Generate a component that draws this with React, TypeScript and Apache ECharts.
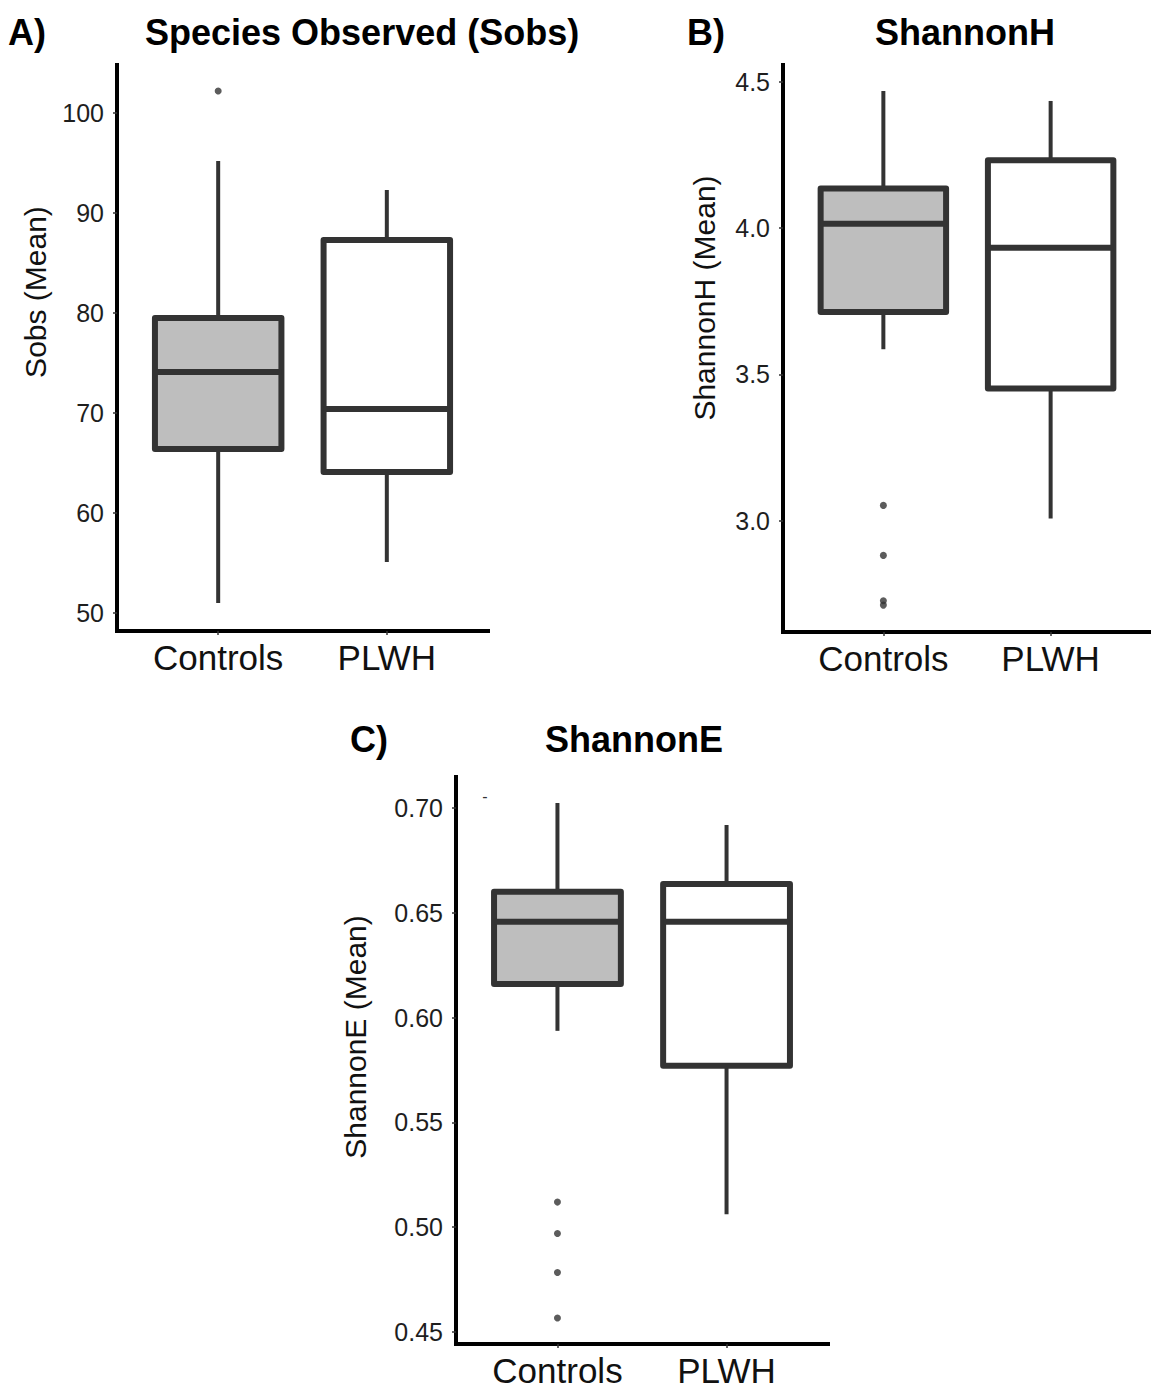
import React, { useEffect, useRef } from "react";
import * as echarts from "echarts";

const groups = ["Controls", "PLWH"];
// each box: [whiskerLow, Q1, median, Q3, whiskerHigh]
const sobsControls = [51.0, 66.4, 74.1, 79.5, 95.2];
const sobsPLWH = [55.1, 64.1, 70.4, 87.3, 92.3];
const sobsOutliers = [102.2];
const hControls = [3.586, 3.713, 4.015, 4.136, 4.469];
const hPLWH = [3.007, 3.452, 3.933, 4.232, 4.435];
const hOutliers = [3.052, 2.881, 2.726, 2.711];
const eControls = [0.5937, 0.6161, 0.6457, 0.66, 0.7024];
const ePLWH = [0.5062, 0.577, 0.6457, 0.6638, 0.6919];
const eOutliers = [0.512, 0.497, 0.4784, 0.4567];
const sobsTicks = [50, 60, 70, 80, 90, 100];
const hTicks = [3.0, 3.5, 4.0, 4.5];
const eTicks = [0.45, 0.5, 0.55, 0.6, 0.65, 0.7];
const fills = ["#bebebe", "#ffffff"];

const FONT = "Liberation Sans, Arial, sans-serif";
const INK = "#333333";

const renderBox = (params: any, api: any) => {
  const x = api.value(0);
  const lo = api.coord([x, api.value(1)]);
  const q1 = api.coord([x, api.value(2)]);
  const md = api.coord([x, api.value(3)]);
  const q3 = api.coord([x, api.value(4)]);
  const hi = api.coord([x, api.value(5)]);
  const w = api.size([0.75, 0])[0];
  const cx = q1[0];
  const left = cx - w / 2;
  const fill = fills[params.dataIndex];
  return {
    type: "group",
    children: [
      { type: "line", shape: { x1: cx, y1: q3[1], x2: cx, y2: hi[1] }, style: { stroke: INK, lineWidth: 4 } },
      { type: "line", shape: { x1: cx, y1: q1[1], x2: cx, y2: lo[1] }, style: { stroke: INK, lineWidth: 4 } },
      {
        type: "rect",
        shape: { x: left, y: q3[1], width: w, height: q1[1] - q3[1] },
        style: { fill, stroke: INK, lineWidth: 6, lineJoin: "round" },
      },
      { type: "line", shape: { x1: left, y1: md[1], x2: left + w, y2: md[1] }, style: { stroke: INK, lineWidth: 6 } },
    ],
  };
};

const xAxisFor = (i: number) => ({
  type: "value",
  gridIndex: i,
  min: 0.4,
  max: 2.6,
  splitLine: { show: false },
  axisLine: { show: true, onZero: false, lineStyle: { color: "#000", width: 4, cap: "square" } },
  axisTick: { show: true, customValues: [1, 2], length: 4, lineStyle: { color: INK, width: 1.5 } },
  axisLabel: {
    customValues: [1, 2],
    formatter: (v: number) => groups[Math.round(v) - 1],
    fontSize: 35,
    color: "#111",
    fontFamily: FONT,
    margin: 9,
  },
});

const yAxisFor = (i: number, min: number, max: number, ticks: number[], digits: number) => ({
  type: "value",
  gridIndex: i,
  min,
  max,
  splitLine: { show: false },
  axisLine: { show: true, onZero: false, lineStyle: { color: "#000", width: 4, cap: "square" } },
  axisTick: { show: true, customValues: ticks, length: 4, lineStyle: { color: INK, width: 1.5 } },
  axisLabel: {
    customValues: ticks,
    formatter: (v: number) => v.toFixed(digits),
    fontSize: 25,
    color: "#1e1e1e",
    fontFamily: FONT,
    margin: 13,
  },
});

const boxSeries = (i: number, a: number[], b: number[]) => ({
  type: "custom",
  xAxisIndex: i,
  yAxisIndex: i,
  renderItem: renderBox,
  encode: { x: 0, y: [1, 2, 3, 4, 5] },
  data: [
    [1, ...a],
    [2, ...b],
  ],
  z: 2,
});

const outlierSeries = (i: number, vals: number[]) => ({
  type: "scatter",
  xAxisIndex: i,
  yAxisIndex: i,
  data: vals.map((v) => [1, v]),
  symbol: "circle",
  symbolSize: 7,
  itemStyle: { color: INK },
  z: 3,
});

const titleAt = (text: string, left: number, top: number) => ({
  text,
  left,
  top,
  padding: 0,
  textStyle: { fontSize: 36, fontWeight: "bold", color: "#000", fontFamily: FONT },
});

const yTitle = (text: string, x: number, y: number) => ({
  type: "text",
  x,
  y,
  rotation: Math.PI / 2,
  style: {
    text,
    fill: "#111",
    font: `30px ${FONT}`,
    align: "center",
    verticalAlign: "middle",
  },
});

export default function App() {
  const ref = useRef<HTMLDivElement>(null);
  useEffect(() => {
    if (!ref.current) return;
    const chart = echarts.init(ref.current, undefined, { renderer: "svg" });
    chart.setOption({
      animation: false,
      backgroundColor: "#ffffff",
      title: [
        titleAt("A)", 8, 14),
        titleAt("Species Observed (Sobs)", 145, 14),
        titleAt("B)", 687, 14),
        titleAt("ShannonH", 875, 14),
        titleAt("C)", 350, 721),
        titleAt("ShannonE", 545, 721),
      ],
      grid: [
        { left: 117, top: 65, width: 371, height: 566 },
        { left: 783, top: 65, width: 372, height: 567 },
        { left: 456, top: 777, width: 372, height: 567 },
      ],
      xAxis: [xAxisFor(0), xAxisFor(1), xAxisFor(2)],
      yAxis: [
        yAxisFor(0, 48.2, 104.8, sobsTicks, 0),
        yAxisFor(1, 2.619, 4.558, hTicks, 1),
        yAxisFor(2, 0.4443, 0.7148, eTicks, 2),
      ],
      graphic: [
        yTitle("Sobs (Mean)", 35, 292),
        yTitle("ShannonH (Mean)", 704, 298),
        yTitle("ShannonE (Mean)", 355, 1037),
        { type: "text", x: 485, y: 796, style: { text: "-", fill: INK, font: `16px ${FONT}`, align: "center", verticalAlign: "middle" } },
      ],
      series: [
        boxSeries(0, sobsControls, sobsPLWH),
        outlierSeries(0, sobsOutliers),
        boxSeries(1, hControls, hPLWH),
        outlierSeries(1, hOutliers),
        boxSeries(2, eControls, ePLWH),
        outlierSeries(2, eOutliers),
      ],
    });
    return () => chart.dispose();
  }, []);
  return (
    <div
      ref={ref}
      style={{ position: "fixed", left: 0, top: 0, width: 1151, height: 1393, background: "#fff" }}
    />
  );
}
